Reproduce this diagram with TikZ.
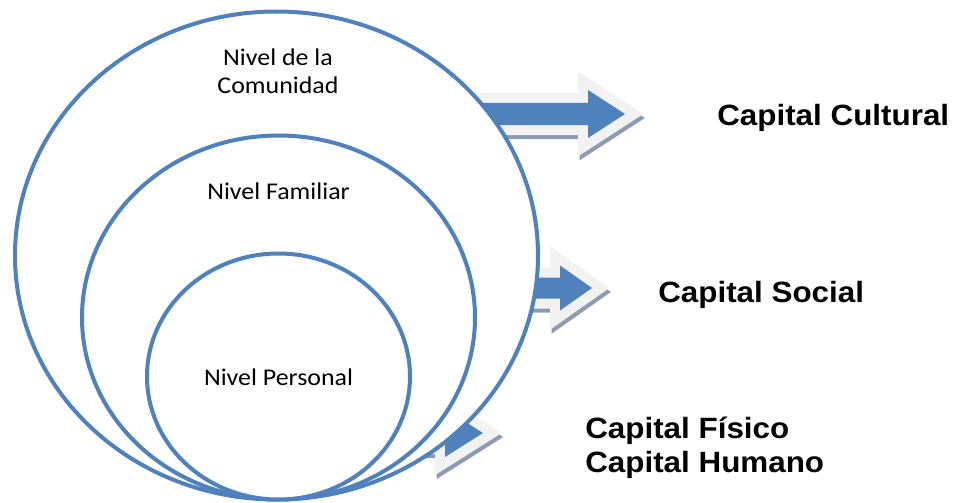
\documentclass[tikz,border=0pt]{standalone}
\usepackage{fontspec}
\usetikzlibrary{positioning, shapes.geometric}
\newfontfamily\nivelfont{Carlito}[FakeStretch=1.08]
\newfontfamily\capitalfont{Liberation Sans}[FakeStretch=1.07]
\definecolor{azul}{RGB}{79,129,189}
\definecolor{claro}{RGB}{242,242,242}
\definecolor{sombra}{RGB}{140,155,178}
\newcommand{\flechapts}[6]{(#1,#4-#5) -- (#2,#4-#5) -- (#2,#4-#6) -- (#3,#4) -- (#2,#4+#6) -- (#2,#4+#5) -- (#1,#4+#5) -- cycle}
\tikzset{
    nivel/.style={ellipse, draw=azul, line width=3pt, fill=white, inner sep=0pt},
    niveltext/.style={font=\nivelfont\fontsize{18}{21}\selectfont, align=center, inner sep=0pt},
    capital/.style={font=\capitalfont\bfseries\fontsize{22}{25.5}\selectfont, inner sep=0pt, anchor=base west}
}

\begin{document}
\begin{tikzpicture}[x=0.75pt, y=-0.75pt]
            \useasboundingbox (0,0) rectangle (957,503);

            \foreach \xa/\xb/\xt/\yc/\h/\H in {470/588/625/114/11/24, 520/560/592/288/10.5/22.5, 400/445/483/433/11/24} {
                \draw [sombra, fill=sombra, line width=15pt, line join=miter, shift={(1.5,4)}] \flechapts{\xa}{\xb}{\xt}{\yc}{\h}{\H};
                \draw [claro, fill=claro, line width=15pt, line join=miter] \flechapts{\xa}{\xb}{\xt}{\yc}{\h}{\H};
                \fill [azul] \flechapts{\xa}{\xb}{\xt}{\yc}{\h}{\H};
            }

            \node [nivel, minimum width=392.25pt, minimum height=366pt] (comunidad) at (276.5, 255.5) {};
            \node [nivel, minimum width=294.75pt, minimum height=273pt] (familiar) at (278.5, 317.5) {};
            \node [nivel, minimum width=197.25pt, minimum height=184.5pt] (personal) at (278.5, 376.5) {};

            \node [niveltext] (tcomunidad) at (278, 71) {Nivel de la\\Comunidad};
            \node [niveltext, anchor=base] (tfamiliar) at (278.5, 199) {Nivel Familiar};
            \node [niveltext, anchor=base] (tpersonal) at (278.5, 385) {Nivel Personal};

            \node [capital] (cultural) at (717, 126) {Capital Cultural};
            \node [capital] (social) at (658, 302) {Capital Social};
            \node [capital] (fisico) at (585, 438) {Capital Físico};
            \node [capital] (humano) at (585, 472) {Capital Humano};
        \end{tikzpicture}
\end{document}
